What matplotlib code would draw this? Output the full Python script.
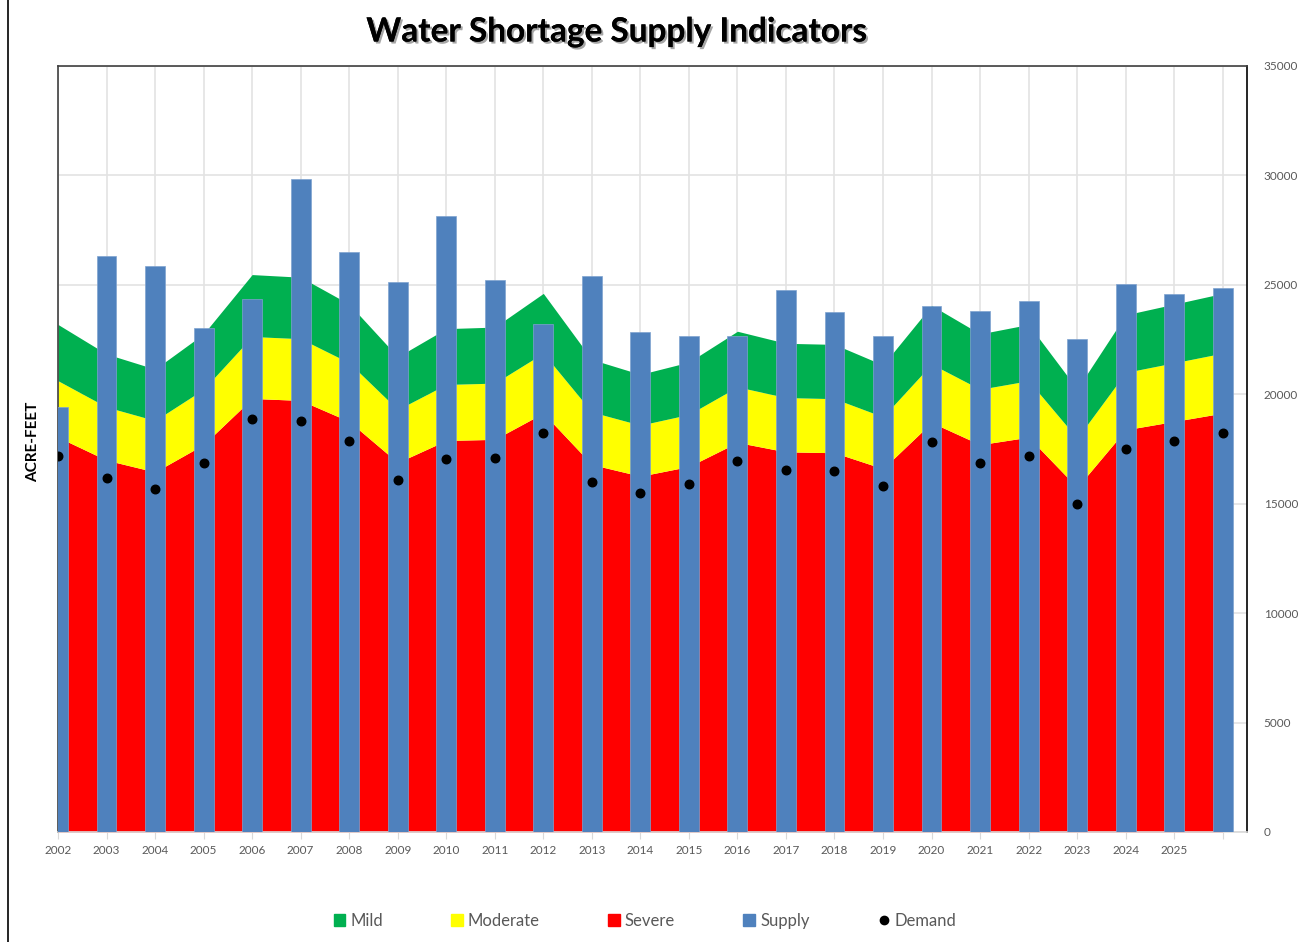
import matplotlib.pyplot as plt
import matplotlib.patheffects as pe
from matplotlib.lines import Line2D
from matplotlib.patches import Patch

# ------------ DATA
years = list(range(2002, 2027))
tick_labels = [str(y) for y in range(2002, 2026)] + [""]

supply = [19400, 26300, 25850, 23050, 24350, 29850, 26500, 25130, 28150, 25220,
          23210, 25400, 22850, 22660, 22660, 24770, 23760, 22660, 24030, 23800,
          24260, 22530, 25040, 24580, 24860]
demand = [17180, 16180, 15670, 16860, 18870, 18780, 17870, 16080, 17040, 17090,
          18230, 15990, 15490, 15900, 16950, 16540, 16500, 15810, 17820, 16860,
          17180, 14990, 17500, 17870, 18230]
severe_top = [18040, 16990, 16450, 17700, 19810, 19720, 18760, 16880, 17890, 17940,
              19140, 16790, 16260, 16700, 17800, 17370, 17330, 16600, 18710, 17700,
              18040, 15740, 18380, 18760, 19140]
moderate_top = [20620, 19420, 18800, 20230, 22640, 22540, 21440, 19300, 20450, 20510,
                21880, 19190, 18590, 19080, 20340, 19850, 19800, 18970, 21380, 20230,
                20620, 17990, 21000, 21440, 21880]
mild_top = [23190, 21840, 21150, 22760, 25470, 25350, 24120, 21710, 23000, 23070,
            24610, 21590, 20910, 21470, 22880, 22330, 22280, 21340, 24060, 22760,
            23190, 20240, 23630, 24120, 24610]

# ------------ PLOT
plt.rcParams['font.family'] = ['Lato', 'DejaVu Sans']

fig = plt.figure(figsize=(13.05, 9.42), dpi=100)
ax = fig.add_axes([58 / 1305, 110 / 942, (1247 - 58) / 1305, (832 - 66) / 942])

ax.fill_between(years, 0, severe_top, color='#ff0000', lw=0, zorder=2)
ax.fill_between(years, severe_top, moderate_top, color='#ffff00', lw=0, zorder=2)
ax.fill_between(years, moderate_top, mild_top, color='#00b050', lw=0, zorder=2)
ax.bar(years, supply, width=0.41, color='#4f81bd', edgecolor='#7fa3d0', lw=0.5, zorder=3)
ax.scatter(years, demand, s=38, color='black', zorder=4)

ax.set_xlim(2002, 2026.5)
ax.set_ylim(0, 35000)
ax.set_xticks(years)
ax.set_xticklabels(tick_labels)
ax.set_yticks(range(0, 35001, 5000))
ax.yaxis.tick_right()
ax.tick_params(axis='y', length=0, labelsize=8.5, labelcolor='#595959', pad=12)
ax.tick_params(axis='x', length=5, color='#d9d9d9', labelsize=8.5, labelcolor='#595959', pad=4)
ax.grid(True, color='#e3e3e3', lw=1.2, zorder=0)
ax.set_axisbelow(True)

ax.spines['bottom'].set_color('#d9d9d9')
ax.spines['left'].set_color('#404040')
ax.spines['top'].set_color('#404040')
ax.spines['right'].set_color('black')
for s in ax.spines.values():
    s.set_linewidth(1.2)

fig.text(33 / 1305, 1 - 442 / 942, 'ACRE-FEET', rotation=90, ha='center', va='center',
         fontsize=11, fontweight='bold')

fig.text(617 / 1305, 1 - 32 / 942, 'Water Shortage Supply Indicators', ha='center', va='center',
         fontsize=24, fontweight='bold',
         path_effects=[pe.withSimplePatchShadow(offset=(1.5, -1.5), alpha=0.35), pe.Normal()])

# frame line on left of figure
fig.add_artist(Line2D([8 / 1305, 8 / 1305], [0, 1], color='black', lw=1.2))

handles = [Patch(color='#00b050'), Patch(color='#ffff00'), Patch(color='#ff0000'),
           Patch(color='#4f81bd'),
           Line2D([], [], marker='o', color='black', ls='', markersize=6)]
labels = ['Mild', 'Moderate', 'Severe', 'Supply', 'Demand']
leg = fig.legend(handles, labels, loc='center', bbox_to_anchor=(645 / 1305, 1 - 921 / 942), ncol=5,
                 frameon=False, handlelength=0.7, handleheight=0.7, handletextpad=0.3,
                 columnspacing=4.1, fontsize=12)
for t in leg.get_texts():
    t.set_color('#595959')

fig.savefig('out.png', dpi=100)
